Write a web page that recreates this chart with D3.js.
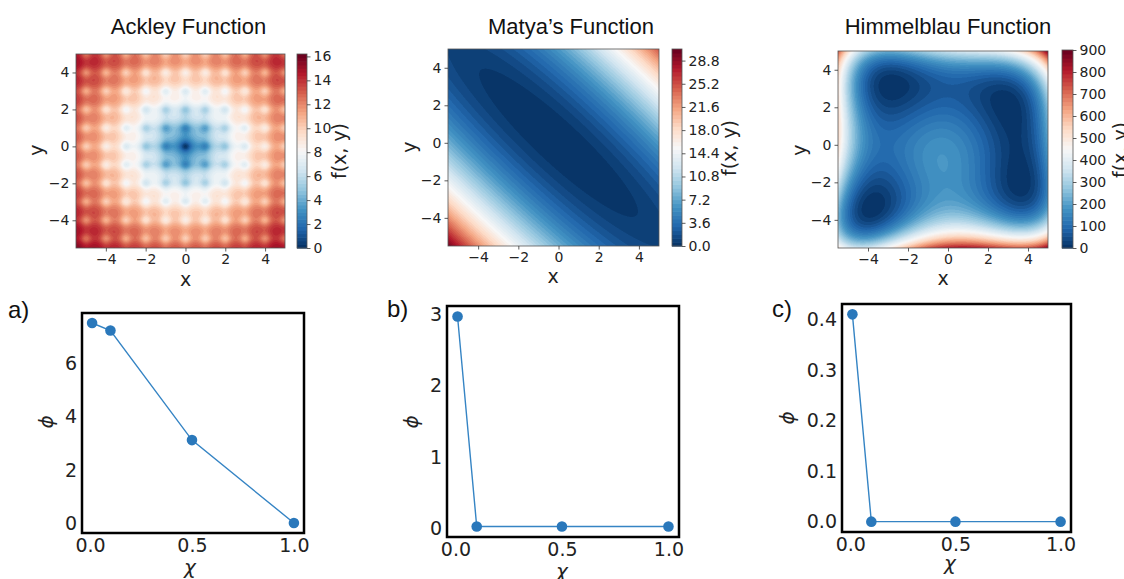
<!DOCTYPE html>
<meta charset="utf-8">
<style>

body {
  margin: 0;
  background: #fff;
}

svg {
  display: block;
  font-family: "DejaVu Sans", sans-serif;
}

.hm .domain { display: none; }
.hm .tick line { stroke: #333; stroke-width: 0.8px; }
.hm .tick text { font-family: "DejaVu Sans", sans-serif; font-size: 14px; fill: #222; }

.ln .domain { display: none; }
.ln .tick line { display: none; }
.ln .tick text { font-family: "DejaVu Sans", sans-serif; font-size: 19px; fill: #222; }

.title {
  font-family: "Liberation Sans", Arial, sans-serif;
  font-size: 22px;
  fill: #111;
}

.lab {
  font-family: "DejaVu Sans", sans-serif;
  font-size: 19px;
  fill: #222;
}

.panel {
  font-family: "Liberation Sans", Arial, sans-serif;
  font-size: 24px;
  fill: #111;
}

</style>
<body>
<script src="https://d3js.org/d3.v7.min.js"></script>
<script>

// ---- data ----
var chi = [0.01, 0.1, 0.5, 1.0];
var phiAckley = [7.5, 7.22, 3.12, 0.02];
var phiMatya = [2.97, 0.03, 0.03, 0.03];
var phiHimmel = [0.41, 0.0, 0.0, 0.0];

var chiTicks = [0, 0.5, 1.0];
var phiTicksA = [0, 2, 4, 6];
var phiTicksB = [0, 1, 2, 3];
var phiTicksC = [0, 0.1, 0.2, 0.3, 0.4];

var xyDomain = [-5.5, 5];
var xyTicks = [-4, -2, 0, 2, 4];

// contour levels: step and top of colour bar
var ackleyLevels = { step: 0.3, top: 16.2 };
var matyaLevels = { step: 0.6, top: 30.6 };
var himmelLevels = { step: 18, top: 900 };

var ackleyCbTicks = [0, 2, 4, 6, 8, 10, 12, 14, 16];
var matyaCbTicks = [0, 3.6, 7.2, 10.8, 14.4, 18.0, 21.6, 25.2, 28.8];
var himmelCbTicks = [0, 100, 200, 300, 400, 500, 600, 700, 800, 900];

// the three test functions
function ackley(x, y) {
  return -20 * Math.exp(-0.2 * Math.sqrt(0.5 * (x * x + y * y)))
    - Math.exp(0.5 * (Math.cos(2 * Math.PI * x) + Math.cos(2 * Math.PI * y)))
    + Math.E + 20;
}
function matya(x, y) {
  return 0.26 * (x * x + y * y) + 0.48 * x * y;
}
function himmel(x, y) {
  return Math.pow(x * x + y - 11, 2) + Math.pow(x + y * y - 7, 2);
}

// matplotlib RdBu_r
var RDBU = ["#053061", "#2166ac", "#4393c3", "#92c5de", "#d1e5f0", "#f7f7f7",
            "#fddbc7", "#f4a582", "#d6604d", "#b2182b", "#67001f"];
var colour = d3.scaleLinear()
    .domain(d3.range(11).map(function(i) { return i / 10; }))
    .range(RDBU)
    .clamp(true);

var svg = d3.select("body").append("svg")
    .attr("width", 1124)
    .attr("height", 579);

function heatmap(cfg) {
  var g = svg.append("g");
  var x = d3.scaleLinear().domain(xyDomain).range([cfg.l, cfg.l + cfg.w]);
  var y = d3.scaleLinear().domain(xyDomain).range([cfg.t + cfg.h, cfg.t]);

  var nb = Math.round(cfg.levels.top / cfg.levels.step);
  var bandCol = d3.range(nb).map(function(i) { return d3.rgb(colour((i + 0.5) / nb)); });

  var cw = cfg.w * 2, ch = cfg.h * 2;
  var canvas = document.createElement("canvas");
  canvas.width = cw;
  canvas.height = ch;
  var ctx = canvas.getContext("2d");
  var img = ctx.createImageData(cw, ch);
  for (var j = 0; j < ch; j++) {
    var yv = y.invert(cfg.t + (j + 0.5) * cfg.h / ch);
    for (var i = 0; i < cw; i++) {
      var xv = x.invert(cfg.l + (i + 0.5) * cfg.w / cw);
      var v = cfg.fn(xv, yv);
      var b = Math.max(0, Math.min(nb - 1, Math.floor(v / cfg.levels.step)));
      var c = bandCol[b], k = (j * cw + i) * 4;
      img.data[k] = c.r; img.data[k + 1] = c.g; img.data[k + 2] = c.b; img.data[k + 3] = 255;
    }
  }
  ctx.putImageData(img, 0, 0);

  g.append("image")
      .attr("x", cfg.l).attr("y", cfg.t)
      .attr("width", cfg.w).attr("height", cfg.h)
      .attr("preserveAspectRatio", "none")
      .attr("href", canvas.toDataURL());

  g.append("rect")
      .attr("x", cfg.l).attr("y", cfg.t)
      .attr("width", cfg.w).attr("height", cfg.h)
      .attr("fill", "none").attr("stroke", "#555").attr("stroke-width", 0.8);

  g.append("g")
      .attr("class", "hm")
      .attr("transform", "translate(0," + (cfg.t + cfg.h) + ")")
      .call(d3.axisBottom(x).tickValues(xyTicks).tickSize(3.5).tickPadding(3));

  g.append("g")
      .attr("class", "hm")
      .attr("transform", "translate(" + cfg.l + ",0)")
      .call(d3.axisLeft(y).tickValues(xyTicks).tickSize(3.5).tickPadding(3));

  // colour bar
  var cb = d3.scaleLinear().domain([0, cfg.levels.top]).range([cfg.cb.b, cfg.cb.t]);
  g.selectAll(".band")
      .data(d3.range(nb))
    .enter().append("rect")
      .attr("x", cfg.cb.x)
      .attr("width", cfg.cb.w)
      .attr("y", function(i) { return cb((i + 1) * cfg.levels.step); })
      .attr("height", function(i) { return cb(i * cfg.levels.step) - cb((i + 1) * cfg.levels.step) + 0.6; })
      .attr("fill", function(i) { return bandCol[i]; });

  g.append("rect")
      .attr("x", cfg.cb.x).attr("y", cfg.cb.t)
      .attr("width", cfg.cb.w).attr("height", cfg.cb.b - cfg.cb.t)
      .attr("fill", "none").attr("stroke", "#555").attr("stroke-width", 0.8);

  g.append("g")
      .attr("class", "hm")
      .attr("transform", "translate(" + (cfg.cb.x + cfg.cb.w) + ",0)")
      .call(d3.axisRight(cb).tickValues(cfg.cbTicks).tickFormat(d3.format(cfg.cbFmt)).tickSize(3.5).tickPadding(3));

  g.append("text")
      .attr("class", "title")
      .attr("x", cfg.title[1]).attr("y", 34)
      .attr("text-anchor", "middle")
      .text(cfg.title[0]);

  g.append("text")
      .attr("class", "lab")
      .attr("x", cfg.xlab[0]).attr("y", cfg.xlab[1])
      .attr("text-anchor", "middle")
      .text("x");

  g.append("text")
      .attr("class", "lab")
      .attr("transform", "translate(" + cfg.ylab[0] + "," + cfg.ylab[1] + ") rotate(-90)")
      .attr("text-anchor", "middle")
      .text("y");

  g.append("text")
      .attr("class", "lab")
      .attr("transform", "translate(" + cfg.flab[0] + "," + cfg.flab[1] + ") rotate(-90)")
      .attr("text-anchor", "middle")
      .text("f(x, y)");
}

heatmap({
  fn: ackley, levels: ackleyLevels, cbTicks: ackleyCbTicks, cbFmt: "d",
  l: 76, t: 54, w: 209, h: 194,
  cb: { x: 297, w: 10, t: 54, b: 248 },
  title: ["Ackley Function", 188.5],
  xlab: [185.5, 286], ylab: [43, 150], flab: [346, 151]
});

heatmap({
  fn: matya, levels: matyaLevels, cbTicks: matyaCbTicks, cbFmt: ".1f",
  l: 448, t: 49, w: 211, h: 197,
  cb: { x: 672, w: 10, t: 49, b: 246 },
  title: ["Matya\u2019s Function", 571],
  xlab: [553, 283], ylab: [415.5, 147], flab: [736, 148]
});

heatmap({
  fn: himmel, levels: himmelLevels, cbTicks: himmelCbTicks, cbFmt: "d",
  l: 838, t: 51, w: 210, h: 197,
  cb: { x: 1062, w: 11, t: 50, b: 248 },
  title: ["Himmelblau Function", 948],
  xlab: [943, 285], ylab: [805.5, 150], flab: [1127, 150]
});

function padded(vals) {
  var e = d3.extent(vals), r = e[1] - e[0];
  return [e[0] - 0.05 * r, e[1] + 0.05 * r];
}

function linePanel(cfg) {
  var g = svg.append("g");
  var x = d3.scaleLinear().domain(padded(chi)).range([cfg.l, cfg.l + cfg.w]);
  var y = d3.scaleLinear().domain(padded(cfg.phi)).range([cfg.t + cfg.h, cfg.t]);

  g.append("g")
      .attr("class", "ln")
      .attr("transform", "translate(0," + (cfg.t + cfg.h) + ")")
      .call(d3.axisBottom(x).tickValues(chiTicks).tickFormat(d3.format(".1f")).tickSize(0).tickPadding(6));

  g.append("g")
      .attr("class", "ln")
      .attr("transform", "translate(" + cfg.l + ",0)")
      .call(d3.axisLeft(y).tickValues(cfg.ticks).tickFormat(d3.format(cfg.fmt)).tickSize(0).tickPadding(5));

  var pts = chi.map(function(c, i) { return [c, cfg.phi[i]]; });

  g.append("path")
      .datum(pts)
      .attr("fill", "none")
      .attr("stroke", "#3584c4")
      .attr("stroke-width", 1.4)
      .attr("d", d3.line()
        .x(function(d) { return x(d[0]); })
        .y(function(d) { return y(d[1]); }));

  g.selectAll(".dot")
      .data(pts)
    .enter().append("circle")
      .attr("cx", function(d) { return x(d[0]); })
      .attr("cy", function(d) { return y(d[1]); })
      .attr("r", 5.3)
      .attr("fill", "#2a78bb");

  g.append("rect")
      .attr("x", cfg.l).attr("y", cfg.t)
      .attr("width", cfg.w).attr("height", cfg.h)
      .attr("fill", "none").attr("stroke", "#000").attr("stroke-width", 2.5);

  g.append("text")
      .attr("class", "lab")
      .attr("x", cfg.chiLab[0]).attr("y", cfg.chiLab[1])
      .attr("text-anchor", "middle")
      .style("font-style", "italic")
      .style("font-size", "20px")
      .text("\u03c7");

  g.append("text")
      .attr("class", "lab")
      .attr("transform", "translate(" + cfg.phiLab[0] + "," + cfg.phiLab[1] + ") rotate(-90)")
      .attr("text-anchor", "middle")
      .style("font-style", "italic")
      .style("font-size", "20px")
      .text("\u03d5");

  g.append("text")
      .attr("class", "panel")
      .attr("x", cfg.tag[1]).attr("y", cfg.tag[2])
      .text(cfg.tag[0]);
}

linePanel({
  phi: phiAckley, ticks: phiTicksA, fmt: "d",
  l: 82, t: 313, w: 222, h: 220,
  chiLab: [190, 574], phiLab: [53, 422], tag: ["a)", 8, 318]
});

linePanel({
  phi: phiMatya, ticks: phiTicksB, fmt: "d",
  l: 447, t: 306, w: 232, h: 231,
  chiLab: [562, 578], phiLab: [417.5, 422], tag: ["b)", 387, 317]
});

linePanel({
  phi: phiHimmel, ticks: phiTicksC, fmt: ".1f",
  l: 842, t: 304, w: 229, h: 228,
  chiLab: [950, 570], phiLab: [794, 418], tag: ["c)", 772, 317]
});

</script>
